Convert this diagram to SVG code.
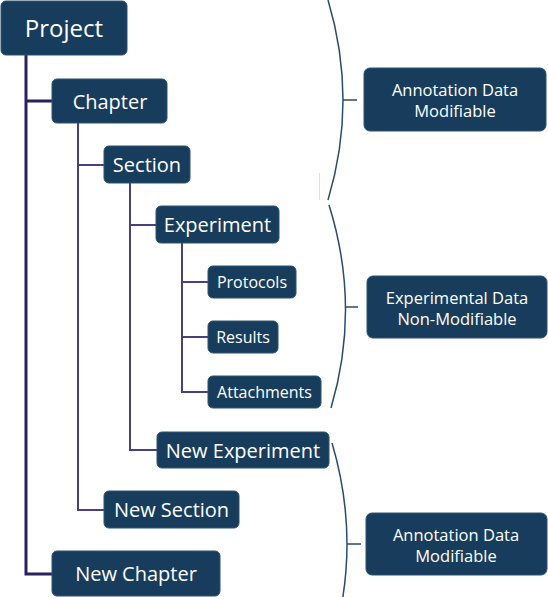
<svg xmlns="http://www.w3.org/2000/svg" width="548" height="597" viewBox="0 0 548 597">
<style>
.box{fill:#183d5c;stroke:#2c5273;stroke-width:1}
.t{fill:#fff;font-family:"Open Sans","Noto Sans","DejaVu Sans",sans-serif;text-anchor:middle;dominant-baseline:central}
.s{font-size:16.5px}
.l1{fill:none;stroke:#2a2160;stroke-width:3}
.l2{fill:none;stroke:#4a4080;stroke-width:2}
.br{fill:none;stroke:#2b4a6c;stroke-width:1.5}
</style>
<rect width="548" height="597" fill="#fff"/>
<g id="connectors">
<path class="l1" d="M26,55 V574 H52 M26,101 H52"/>
<path class="l2" d="M78,123 V510 H104 M78,165 H104"/>
<path class="l2" d="M130,183 V450 H157 M130,225 H156"/>
<path class="l2" d="M182,243 V392 H208 M182,282 H208 M182,337 H208"/>
<path class="br" d="M328,0 Q358,100 328,200 M343,100 H357"/>
<path class="br" d="M329,205 Q361,307 331,408 M345,307 H358"/>
<path class="br" d="M332,443 Q362,544 332,645 M347,544 H361"/>
<path d="M319.5,173 V200" stroke="#e2e2e2" stroke-width="1"/>
</g>
<g id="project"><rect class="box" x="1" y="1" width="126" height="54" rx="5"/><text class="t" x="64" y="27.5" font-size="24">Project</text></g>
<g id="chapter"><rect class="box" x="52" y="79" width="115" height="44" rx="5"/><text class="t" x="110" y="101" font-size="20">Chapter</text></g>
<g id="section"><rect class="box" x="104" y="146" width="86" height="37" rx="5"/><text class="t" x="147" y="164.5" font-size="20">Section</text></g>
<g id="experiment"><rect class="box" x="156" y="206" width="123" height="37" rx="5"/><text class="t" x="217.5" y="224.5" font-size="20">Experiment</text></g>
<g id="protocols"><rect class="box" x="208" y="266" width="88" height="32" rx="5"/><text class="t" x="252" y="282" font-size="16">Protocols</text></g>
<g id="results"><rect class="box" x="208" y="321" width="70" height="32" rx="5"/><text class="t" x="243" y="337" font-size="16">Results</text></g>
<g id="attachments"><rect class="box" x="208" y="376" width="113" height="32" rx="5"/><text class="t" x="264.5" y="392" font-size="16">Attachments</text></g>
<g id="new-experiment"><rect class="box" x="157" y="432" width="172" height="36" rx="5"/><text class="t" x="243" y="450" font-size="20">New Experiment</text></g>
<g id="new-section"><rect class="box" x="104" y="491" width="135" height="37" rx="5"/><text class="t" x="171.5" y="509.5" font-size="20">New Section</text></g>
<g id="new-chapter"><rect class="box" x="52" y="551" width="168" height="45" rx="5"/><text class="t" x="136" y="573.5" font-size="20">New Chapter</text></g>
<g id="annotation-top"><rect class="box" x="364" y="68" width="182" height="63" rx="6"/><text class="t s" x="455" y="89">Annotation Data</text><text class="t s" x="455" y="110">Modifiable</text></g>
<g id="experimental-data"><rect class="box" x="367" y="276" width="180" height="62" rx="6"/><text class="t s" x="457" y="297">Experimental Data</text><text class="t s" x="457" y="318">Non-Modifiable</text></g>
<g id="annotation-bottom"><rect class="box" x="366" y="513" width="181" height="62" rx="6"/><text class="t s" x="456" y="534">Annotation Data</text><text class="t s" x="456" y="555">Modifiable</text></g>
</svg>
